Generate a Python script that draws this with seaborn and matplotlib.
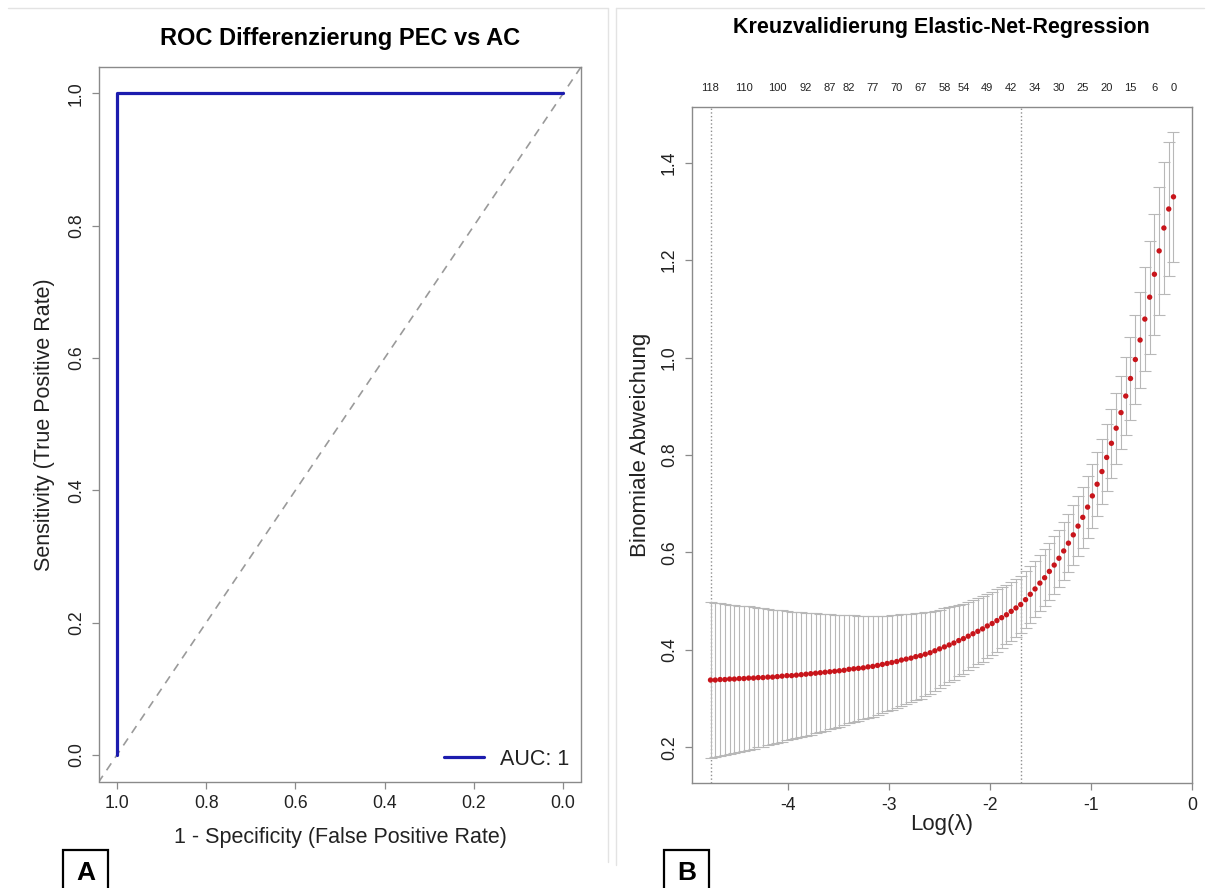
import numpy as np
import pandas as pd
import matplotlib
matplotlib.use("Agg")
import matplotlib.pyplot as plt
import seaborn as sns
from matplotlib.lines import Line2D
from matplotlib.patches import Rectangle

# ---------------- Panel A data (ROC) ----------------
roc_specificity = [1.0, 1.0, 0.0]      # x axis is drawn reversed (1.0 -> 0.0)
roc_sensitivity = [0.0, 1.0, 1.0]
auc_label = "AUC: 1"
roc_ticks = [1.0, 0.8, 0.6, 0.4, 0.2, 0.0]
roc_ticklabels = ["1.0", "0.8", "0.6", "0.4", "0.2", "0.0"]

# ---------------- Panel B data (cv.glmnet) ----------------
log_lambda = [
    -4.770, -4.723, -4.675, -4.628, -4.581, -4.534, -4.486, -4.439, -4.392, -4.344,
    -4.297, -4.250, -4.202, -4.155, -4.108, -4.061, -4.013, -3.966, -3.919, -3.871,
    -3.824, -3.777, -3.729, -3.682, -3.635, -3.588, -3.540, -3.493, -3.446, -3.398,
    -3.351, -3.304, -3.256, -3.209, -3.162, -3.115, -3.067, -3.020, -2.973, -2.925,
    -2.878, -2.831, -2.783, -2.736, -2.689, -2.642, -2.594, -2.547, -2.500, -2.452,
    -2.405, -2.358, -2.310, -2.263, -2.216, -2.169, -2.121, -2.074, -2.027, -1.979,
    -1.932, -1.885, -1.837, -1.790, -1.743, -1.696, -1.648, -1.601, -1.554, -1.506,
    -1.459, -1.412, -1.364, -1.317, -1.270, -1.223, -1.175, -1.128, -1.081, -1.033,
    -0.986, -0.939, -0.891, -0.844, -0.797, -0.750, -0.702, -0.655, -0.608, -0.560,
    -0.513, -0.466, -0.418, -0.371, -0.324, -0.277, -0.229, -0.182]
cv_mean = [
    0.338, 0.338, 0.339, 0.339, 0.340, 0.340, 0.341, 0.341, 0.342, 0.342,
    0.343, 0.343, 0.344, 0.344, 0.345, 0.346, 0.347, 0.347, 0.348, 0.349,
    0.350, 0.351, 0.352, 0.353, 0.354, 0.355, 0.356, 0.357, 0.358, 0.360,
    0.361, 0.362, 0.363, 0.365, 0.366, 0.368, 0.370, 0.372, 0.374, 0.376,
    0.379, 0.381, 0.383, 0.386, 0.388, 0.391, 0.394, 0.398, 0.402, 0.406,
    0.410, 0.414, 0.419, 0.423, 0.428, 0.433, 0.438, 0.443, 0.449, 0.454,
    0.460, 0.466, 0.472, 0.479, 0.486, 0.493, 0.503, 0.514, 0.525, 0.537,
    0.548, 0.561, 0.574, 0.588, 0.603, 0.619, 0.636, 0.654, 0.672, 0.693,
    0.716, 0.740, 0.766, 0.795, 0.824, 0.855, 0.887, 0.921, 0.957, 0.996,
    1.036, 1.079, 1.124, 1.171, 1.219, 1.266, 1.305, 1.330]
cv_se = [
    0.160, 0.158, 0.157, 0.155, 0.153, 0.152, 0.150, 0.148, 0.147, 0.145,
    0.143, 0.142, 0.140, 0.138, 0.136, 0.135, 0.133, 0.131, 0.130, 0.128,
    0.126, 0.125, 0.123, 0.121, 0.120, 0.118, 0.116, 0.115, 0.113, 0.111,
    0.110, 0.108, 0.106, 0.105, 0.103, 0.101, 0.100, 0.098, 0.097, 0.096,
    0.095, 0.093, 0.091, 0.090, 0.088, 0.086, 0.084, 0.082, 0.080, 0.079,
    0.077, 0.075, 0.073, 0.072, 0.070, 0.069, 0.068, 0.067, 0.066, 0.065,
    0.064, 0.062, 0.061, 0.060, 0.059, 0.058, 0.058, 0.058, 0.058, 0.058,
    0.058, 0.059, 0.059, 0.059, 0.060, 0.060, 0.061, 0.062, 0.063, 0.064,
    0.065, 0.066, 0.067, 0.069, 0.071, 0.073, 0.075, 0.080, 0.085, 0.092,
    0.099, 0.107, 0.116, 0.124, 0.131, 0.135, 0.137, 0.133]
nz_labels = ["118", "110", "100", "92", "87", "82", "77", "70", "67", "58",
             "54", "49", "42", "34", "30", "25", "20", "15", "6", "0"]
nz_label_idx = [0, 7, 14, 20, 25, 29, 34, 39, 44, 49,
                53, 58, 63, 68, 73, 78, 83, 88, 93, 97]
idx_lambda_min = 0
idx_lambda_1se = 65
b_xticks = [-4, -3, -2, -1, 0]
b_yticks = [0.2, 0.4, 0.6, 0.8, 1.0, 1.2, 1.4]

# ---------------- styling ----------------
sns.set_style("white")
plt.rcParams["font.family"] = ["Liberation Sans", "DejaVu Sans"]
plt.rcParams["axes.unicode_minus"] = False

W, H = 1208, 888
fig = plt.figure(figsize=(W / 100, H / 100), dpi=100)


def fx(px):
    return px / W


def fy(py):
    return 1 - py / H


def ax_rect(l, t, r, b):
    return [fx(l), fy(b), fx(r) - fx(l), fy(t) - fy(b)]


SPINE = "#8a8a8a"
TXT = "#222222"
TICK_FS = 12.7
LAB_FS = 15.5

# ---------------- Panel A ----------------
axA = fig.add_axes(ax_rect(99, 67, 581, 781.5))
roc_df = pd.DataFrame({"spec": roc_specificity, "sens": roc_sensitivity})
axA.axline((1.0, 0.0), (0.0, 1.0), color="#9a9a9a", lw=1.2,
           ls=(0, (5, 4)), zorder=1)
sns.lineplot(data=roc_df, x="spec", y="sens", sort=False, estimator=None,
             color="#1c1cae", lw=2.3, ax=axA, zorder=3, label=auc_label)
axA.set_xlim(1.04, -0.04)
axA.set_ylim(-0.04, 1.04)
axA.set_xticks(roc_ticks)
axA.set_xticklabels(roc_ticklabels)
axA.set_yticks(roc_ticks)
axA.set_yticklabels(roc_ticklabels)
axA.set_xlabel("1 - Specificity (False Positive Rate)", fontsize=LAB_FS, color=TXT)
axA.set_ylabel("Sensitivity (True Positive Rate)", fontsize=LAB_FS, color=TXT)
axA.xaxis.set_label_coords(0.5, -0.063)
axA.yaxis.set_label_coords(-0.092, 0.5)
leg = axA.legend(loc="lower right", frameon=False, fontsize=15.5,
                 handlelength=1.85, handletextpad=0.75,
                 borderaxespad=0.25, borderpad=0.3)
for t in leg.get_texts():
    t.set_color(TXT)
fig.text(fx(340), fy(38), "ROC Differenzierung PEC vs AC", ha="center",
         va="center", fontsize=17, fontweight="bold", color="black")

# ---------------- Panel B ----------------
axB = fig.add_axes(ax_rect(692, 107, 1192, 783))
axB.errorbar(log_lambda, cv_mean, yerr=cv_se, fmt="none", ecolor="#b8b8b8",
             elinewidth=0.8, capsize=4.5, capthick=0.8, zorder=2)
sns.scatterplot(x=log_lambda, y=cv_mean, color="#c8151b", s=15,
                edgecolor="none", ax=axB, zorder=3)
axB.axvline(log_lambda[idx_lambda_min], color="#8f8f8f", lw=1.0, ls=":", zorder=1)
axB.axvline(log_lambda[idx_lambda_1se], color="#8f8f8f", lw=1.0, ls=":", zorder=1)

xmin, xmax = min(log_lambda), max(log_lambda)
lo = [m - s for m, s in zip(cv_mean, cv_se)]
up = [m + s for m, s in zip(cv_mean, cv_se)]
ymin, ymax = min(lo), max(up)
axB.set_xlim(xmin - 0.04 * (xmax - xmin), xmax + 0.04 * (xmax - xmin))
axB.set_ylim(ymin - 0.04 * (ymax - ymin), ymax + 0.04 * (ymax - ymin))
axB.set_xticks(b_xticks)
axB.set_xticklabels([str(v) for v in b_xticks])
axB.set_yticks(b_yticks)
axB.set_yticklabels([f"{v:.1f}" for v in b_yticks])
axB.set_xlabel("Log(λ)", fontsize=LAB_FS + 0.5, color=TXT)
axB.set_ylabel("Binomiale Abweichung", fontsize=LAB_FS + 0.5, color=TXT)
axB.xaxis.set_label_coords(0.5, -0.046)
axB.yaxis.set_label_coords(-0.082, 0.5)
for lab, i in zip(nz_labels, nz_label_idx):
    axB.text(log_lambda[i], 1.028, lab, transform=axB.get_xaxis_transform(),
             ha="center", va="center", fontsize=8, color=TXT)
fig.text(fx(941), fy(28), "Kreuzvalidierung Elastic-Net-Regression",
         ha="center", va="center", fontsize=15.5, fontweight="bold",
         color="black")

# ---------------- common axis styling ----------------
for ax in (axA, axB):
    for sp in ax.spines.values():
        sp.set_color(SPINE)
        sp.set_linewidth(1.0)
        sp.set_visible(True)
    ax.tick_params(axis="both", direction="out", length=5, width=0.9,
                   color=SPINE, labelsize=TICK_FS, labelcolor=TXT, pad=5,
                   bottom=True, left=True)
    for t in ax.get_yticklabels():
        t.set_rotation(90)
        t.set_va("center")
    ax.grid(False)

# ---------------- panel frames and letters ----------------
frame_col = "#e3e3e3"
fig.add_artist(Line2D([fx(8), fx(608)], [fy(8), fy(8)], color=frame_col, lw=1))
fig.add_artist(Line2D([fx(608), fx(608)], [fy(8), fy(862)], color=frame_col, lw=1))
fig.add_artist(Line2D([fx(616), fx(616)], [fy(8), fy(865)], color=frame_col, lw=1))
fig.add_artist(Line2D([fx(616), fx(1204)], [fy(8), fy(8)], color=frame_col, lw=1))

for letter, l, r in (("A", 63, 108), ("B", 664, 709)):
    fig.add_artist(Rectangle((fx(l), fy(892)), fx(r) - fx(l), fy(850) - fy(892),
                             fill=False, edgecolor="black", lw=1.6))
    fig.text(fx((l + r) / 2), fy(873), letter, ha="center", va="center",
             fontsize=19, fontweight="bold", color="black")

fig.savefig("out.png", dpi=100)
